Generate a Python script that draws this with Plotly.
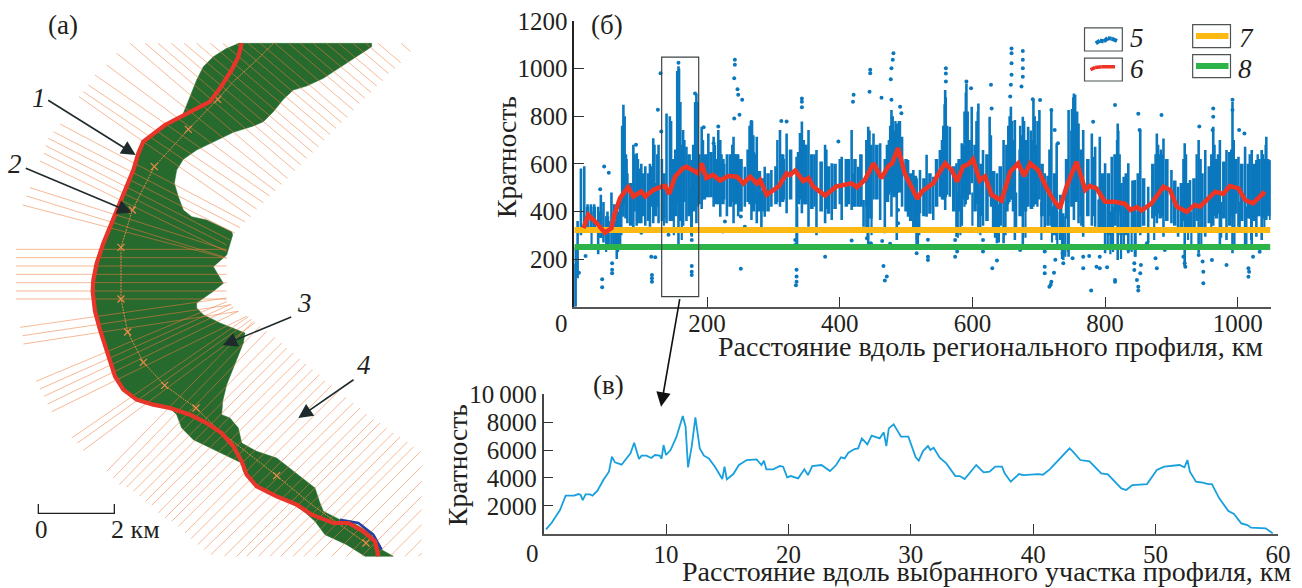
import plotly.graph_objects as go

W, H = 1302, 588
SERIF = "Liberation Serif"
INK = "#231f20"

# ---------- panel (a): map, in map units (2 km = 228 units) ----------
river_x = [715,1115,1115,1040,970,920,880,850,820,790,760,700,640,590,550,530,523,535,550,575,620,695,698,680,640,670,640,
           590,590,610,660,735,730,700,680,668,665,690,715,725,770,830,880,945,958,970,1020,1060,1110,1145,1180,1095,1040,975,945,
           900,870,800,760,730,725,640,580,545,530,510,450,400,365,345,325,300,285,278,280,290,310,345,400,415,430,495,545,550,570,590,610,640,680]
river_y = [130,130,140,190,235,258,270,298,335,365,378,397,425,450,478,510,550,590,630,650,660,695,705,765,800,850,874,
           909,924,944,969,999,1029,1104,1154,1204,1244,1254,1284,1329,1354,1374,1414,1464,1504,1534,1559,1569,1599,1649,1669,1669,1634,1604,1564,
           1524,1509,1479,1454,1414,1389,1349,1319,1284,1244,1224,1209,1192,1164,1124,1069,989,934,874,860,800,730,640,510,460,425,375,350,340,290,240,200,170,145]
bank_x = [725,715,695,660,630,545,495,430,415,400,345,310,290,280,278,285,300,325,345,370,410,460,510,570,620,665,700,725,740,770,830,890,935,1000,1045,1090,1125,1135]
bank_y = [130,170,210,265,305,350,375,425,460,510,640,730,790,840,874,934,989,1069,1129,1169,1199,1214,1224,1244,1269,1299,1339,1384,1424,1459,1489,1514,1544,1569,1569,1594,1624,1669]
blue_bank_x = [1020,1075,1120,1145]
blue_bank_y = [1559,1569,1604,1649]
centre_x = [820,770,700,653,565,463,397,363,363,383,430,494,588,660,830,935,1098]
centre_y = [130,180,245,298,388,500,630,742,897,996,1087,1156,1224,1294,1427,1514,1629]
station_x = [653,565,463,397,363,363,383,430,494,588,830,1098]
station_y = [298,388,500,630,742,897,996,1087,1156,1224,1427,1629]
section_x0 = [1203,1134,1097,1059,1016,979,940,901,866,825,781,745,708,669,631,590,553,514,474,436,390,350,320,285,265,250,237,180,160,
              145,137,132,120,90,80,68,48,48,48,48,48,48,48,60,68,70,108,120,132,143,155,215,232,250,
              320,340,358,380,400,418,437,455,475,495,515,535,555,573,593,612,633,673,710,740,775,810,842,879,912,947,995,1040,1085,1125,1170,1215,1255]
section_y0 = [130,130,130,130,130,130,130,130,130,130,130,130,130,130,130,130,130,130,130,130,130,160,195,225,255,275,290,372,395,
              415,437,460,483,563,588,615,748,773,798,823,848,873,897,982,1007,1032,1144,1167,1189,1212,1235,1314,1329,1351,
              1414,1434,1454,1461,1474,1489,1504,1516,1539,1554,1564,1579,1599,1616,1634,1649,1664,1669,1669,1669,1669,1669,1669,1669,1669,1669,1669,1669,1669,1669,1669,1669,1669]
section_x1 = [1232,1202,1185,1165,1148,1130,1113,1095,1078,1060,1042,1025,1008,990,972,955,938,920,902,885,862,845,826,809,790,770,752,735,720,
              705,690,680,680,680,670,680,680,680,680,680,680,680,680,680,695,715,680,690,700,715,740,745,755,765,
              760,780,800,825,845,860,880,900,918,938,958,975,995,1015,1038,1060,1080,1100,1120,1140,1160,1180,1200,1222,1240,1262,1265,1265,1265,1265,1265,1265,1265]
section_y1 = [155,188,205,220,242,258,277,295,310,330,352,368,385,403,420,440,457,475,494,512,535,553,572,588,608,627,650,665,683,
              700,720,735,755,750,770,775,748,773,798,823,848,873,897,894,914,934,905,914,922,934,949,950,958,968,
              964,979,994,1012,1029,1044,1059,1076,1092,1109,1124,1142,1156,1174,1192,1209,1224,1242,1259,1269,1284,1299,1311,1326,1341,1354,1399,1444,1489,1529,1574,1619,1659]
scale_km_x = [115,115,343,343]
scale_km_y = [1512,1540,1540,1512]

# ---------- panel (б): regional profile ----------
spike_x = [0,2,5,10,15,20,25,30,36,40,44,50,56,60,64,69,74,80,89,94,101,107,114,119,127,132,139,144,157,164,169,177,184,192,202,210,217,220,230,240,247,252,
           257,267,275,282,287,297,310,320,335,343,353,365,378,388,403,418,428,436,443,451,461,468,478,486,494,503,511,516,
           521,531,541,551,559,566,576,584,591,599,609,616,626,637,647,658,664,676,684,692,701,709,719,727,737,745,753,760,767,780,
           785,792,800,810,819,828,835,845,853,865,878,888,900,910,920,928,941,951,963,973,983,992,1001,1011,1021,1028,1036,1043,1049]
spike_lo = [0,0,120,300,320,310,310,320,220,290,270,250,260,270,200,260,378,350,310,340,350,340,336,350,350,360,350,360,240,340,360,294,350,410,460,420,430,378,380,350,380,400,
            420,364,350,322,378,420,420,392,252,392,336,300,350,364,364,406,420,336,252,450,364,308,378,280,420,378,322,252,
            392,378,364,462,406,462,294,340,448,518,308,340,462,266,266,450,280,252,420,420,450,322,340,280,196,210,364,350,294,340,
            336,310,224,238,196,238,224,210,300,266,350,294,350,294,168,320,224,294,340,238,280,224,336,252,252,294,280,364,364]
spike_hi = [180,250,360,580,590,430,430,430,420,470,440,400,480,430,430,440,848,560,680,645,600,590,600,708,680,620,812,800,1010,742,672,616,896,756,728,714,742,700,640,714,640,620,
            588,784,714,490,588,574,742,728,630,778,742,658,680,602,630,742,588,448,756,728,686,620,826,770,714,616,574,540,
            574,638,546,658,910,756,602,686,938,840,854,658,798,560,700,840,784,798,756,868,826,560,826,686,392,826,896,770,742,728,
            672,714,602,630,770,546,602,532,742,504,728,707,574,504,686,532,700,658,756,700,658,860,630,672,658,616,658,714,616]
core_x = [20,30,40,50,60,70,78,85,97,104,112,122,135,148,153,160,173,180,188,196,206,214,224,235,244,250,262,270,279,285,292,304,314,326,338,348,358,372,383,393,410,423,432,447,456,472,482,490,500,507,514,
          527,536,546,555,572,580,588,595,604,613,622,632,642,652,662,672,680,689,696,705,714,724,733,742,750,756,764,774,783,
          796,805,815,824,832,842,850,858,872,883,893,905,915,924,934,946,957,968,979,988,997,1006,1016,1025,1032,1040,1047]
core_lo = [320,310,290,260,260,300,370,340,350,380,360,380,370,360,380,360,380,400,430,450,460,430,430,420,430,400,440,400,400,400,400,430,440,450,430,430,410,400,390,410,420,420,420,370,450,440,460,480,400,360,320,
           380,390,420,450,400,400,450,470,400,380,360,320,340,400,400,380,400,410,430,380,340,300,280,370,420,440,380,380,380,
           330,300,340,300,300,330,320,340,370,370,360,340,330,320,320,330,350,370,370,340,390,360,370,360,380,370,380]
core_hi = [420,420,400,380,360,440,620,520,580,560,560,520,560,620,660,680,640,680,640,640,650,620,620,640,640,620,660,650,570,540,560,590,640,660,650,680,640,610,590,600,620,620,640,680,680,680,740,780,620,560,550,
           540,560,620,700,590,620,680,700,680,600,640,570,590,680,700,660,700,700,680,600,550,560,470,620,740,760,660,620,630,
           560,560,640,520,560,530,560,540,600,640,620,530,520,520,540,560,590,620,610,650,620,600,600,600,620,620,610]
ridge_x = [72,76,78,91,96,116,121,125,146,155,158,160,166,179,182,186,194,200,212,222,226,238,242,
           264,266,268,270,272,306,312,316,340,346,350,362,380,400,414,420,440,445,474,476,480,484,488,
           556,558,560,562,588,590,593,606,608,628,654,656,660,672,674,678,688,694,698,716,750,752,755,758,
           818,820,822,876,880,884,886,918,922,938,944,960,965,970,990,994,1018,1030,1038,1042,1046]
ridge_lo = [420,430,420,400,420,420,430,420,420,440,420,430,440,420,410,420,450,460,460,450,450,440,430,
            430,430,420,420,430,440,440,450,450,430,430,420,410,430,430,420,420,410,470,480,470,470,480,
            450,460,460,470,420,430,450,430,440,420,430,440,450,420,420,430,420,430,420,380,440,450,460,450,
            400,380,400,380,390,390,380,360,360,360,370,370,380,390,380,370,370,380,380,400,390]
ridge_hi = [760,800,640,640,620,590,680,640,780,990,1000,860,700,640,860,860,700,640,680,640,600,680,640,
            760,780,780,720,640,700,640,620,730,700,680,640,660,620,620,560,700,740,700,760,800,780,740,
            760,850,880,760,820,900,820,780,820,720,760,800,780,760,720,780,740,800,780,660,830,880,890,820,
            700,740,640,640,680,660,640,620,640,640,620,640,680,640,660,700,640,640,640,680,620]
trough_x = [26,48,52,62,66,135,150,162,176,336,440,442,448,516,518,520,578,582,600,612,634,640,650,666,680,704,720,728,735,740,744,764,790,804,808,812,824,840,846,874,925,930,945,960,975,995,1003,1013,1020,1040]
trough_lo = [240,230,250,260,230,340,300,280,300,255,320,280,300,280,260,300,290,300,340,300,290,270,300,320,290,280,270,250,200,210,230,340,310,240,220,230,200,230,210,280,280,240,260,320,290,260,310,260,280,330]
trough_hi = [400,380,360,350,400,460,470,470,500,420,450,440,450,460,450,450,480,470,480,500,450,430,440,480,460,440,420,400,380,380,380,460,450,420,400,420,380,400,400,440,420,400,420,440,440,420,440,420,430,450]
stray_x = [45,52,39,42,42,57,57,57,17,7,116,122,117,117,117,130,126,131,177,177,177,182,157,251,242,242,241,246,247,253,249,241,217,195,210,142,101,93,177,215,224,242,227,251,257,
           343,343,343,335,335,335,334,378,312,320,418,398,421,420,446,446,445,463,478,477,480,478,481,491,493,466,471,468,516,488,488,333,333,441,447,464,476,
           560,560,560,591,598,628,659,659,659,659,676,676,676,676,674,658,657,691,702,629,719,724,729,782,533,533,533,574,574,577,574,616,616,637,630,672,709,709,723,718,719,716,779,725,737,751,767,767,776,787,709,642,736,
           815,815,815,850,885,963,963,992,992,1002,1010,792,792,803,850,850,844,844,848,853,854,876,878,920,921,948,948,947,961,983,1016,1016,1023,1033,941,918,1017,910,962,942,822,835,863,890,852]
stray_y = [589,563,493,115,82,183,155,140,213,143,210,208,133,120,105,981,827,736,171,147,133,896,1025,159,1037,1016,960,913,890,869,806,791,757,754,687,302,311,680,280,325,316,323,358,379,336,
           875,861,838,155,127,105,90,210,780,778,278,694,890,861,995,981,903,878,869,955,1037,1002,1065,840,813,171,127,110,225,350,406,280,259,288,267,276,264,
           1002,980,946,946,918,932,1085,1065,1023,974,1074,1037,1002,966,925,932,883,871,868,833,826,742,686,777,281,210,196,280,252,232,210,280,232,194,162,238,168,141,143,92,105,84,68,197,182,203,210,162,213,168,232,252,224,
           847,112,105,810,805,833,798,869,826,742,728,210,161,166,84,68,182,154,112,140,175,203,161,182,168,98,147,190,196,175,161,126,210,231,217,210,147,252,742,757,252,238,266,238,742]
mean_x = [14,21,34,46,56,61,69,81,89,101,107,119,129,137,143,152,164,169,187,192,199,209,220,232,245,255,265,275,280,290,300,308,320,325,333,345,353,360,378,395,418,426,438,451,463,473,479,488,498,508,517,
          524,531,541,551,559,569,577,586,594,601,611,619,629,644,657,669,678,687,699,712,722,732,742,757,770,777,787,
          800,815,830,838,848,855,870,888,898,908,923,935,943,966,978,988,1001,1011,1023,1038,1041]
mean_y = [330,386,350,311,330,392,456,502,463,484,463,490,502,507,474,547,582,588,560,602,540,553,530,549,546,518,546,518,532,470,490,505,560,553,572,528,540,505,467,505,518,502,533,602,540,589,602,666,560,498,453,
          484,498,519,568,602,574,525,589,598,619,530,547,470,446,567,602,549,602,574,498,449,414,505,609,490,507,497,
          441,441,432,406,418,404,434,504,490,420,399,427,420,483,474,507,497,448,434,476,469]
level_x = [0,1049]
level_7 = [322,322]
level_8 = [251,251]
frame_x = [131.7,187.5]
frame_y = [42,1048]
xticks_b = [200,400,600,800,1000]
yticks_b = [200,400,600,800,1000,1200]

# ---------- panel (в): selected section ----------
section_km = [0.2,0.66,1.34,1.8,2.5,2.84,3.03,3.2,3.43,3.8,4,4.4,4.88,5.34,5.58,5.83,6.37,7.1,7.4,7.79,8,8.4,8.8,9.1,9.5,9.64,9.8,10,10.37,10.86,11.37,11.6,11.8,12.1,12.4,12.76,13.1,13.5,14,14.6,14.78,14.97,15.5,15.96,16.6,17.4,17.8,18,18.2,18.76,19.3,19.57,19.9,20.2,20.8,21.3,21.6,21.95,22.7,23.4,23.9,24.3,24.6,24.9,25.4,25.7,26,26.45,26.8,
              27.46,27.79,28,28.2,28.6,29.2,29.8,30.4,30.65,31,31.4,31.6,31.87,32.36,32.9,33.64,34,34.4,35.35,35.95,36.44,36.9,37.45,37.67,38.16,38.84,39.2,40.4,40.8,41.35,42.16,42.97,43.25,43.85,44.6,45.56,46.1,47.2,47.6,48.1,49.3,50.1,50.7,51.1,51.95,52.36,52.6,52.8,53.3,53.85,54.3,54.6,55.2,55.95,56.4,57,57.5,57.8,59,59.57]
section_val = [310,788,1696,2724,2724,2843,2772,2413,2819,2819,2724,3082,3847,4444,5520,5114,4947,5759,6524,5353,5592,5592,5424,5640,5592,5377,6356,5640,5998,6954,8436,7671,4755,6237,8340,6117,5592,5400,4803,3919,4803,3895,4277,4923,5281,5329,4923,5233,4612,4612,4851,4803,4038,4134,3967,4612,4206,4851,4923,4492,4923,5472,5400,5807,6070,6117,6834,6404,7026,
               6834,7265,6285,7551,7838,6954,6954,5472,5233,5926,6285,5998,6165,5448,5042,4134,4134,3919,4923,4397,4444,4803,4803,4325,3727,4277,4206,4277,4229,4612,5400,6117,5878,5281,5185,4325,4253,3249,3130,3489,3560,4564,4803,4851,4923,4755,5281,4444,3727,3656,3560,3560,2532,1624,1409,740,620,429,381,20]
xticks_c = [10,20,30,40,50,60]
yticks_c = [2000,4000,6000,8000,10000]
yticklabels_c = ["2000","4000","6000","8000","10\u2009000"]

# legend samples, in the units of panel (б)
legend_labels = ["5","6","7","8"]
key5_x, key5_y = [786,792,798,804,810,818], [1106,1118,1114,1128,1126,1116]
key6_x, key6_y = [778,785,795,815], [995,1005,1008,1008]
key7_x, key7_y = [937,986], [1137,1137]
key8_x, key8_y = [937,986], [1011,1011]
legend_boxes = [(769,1074,826,1171),(769,948,826,1044),(932,1088,989,1185),(932,962,989,1059)]

def px_x(v): return v / W
def px_y(v): return 1 - v / H

def broken(xs0, ys0, xs1, ys1):
    X, Y = [], []
    for a, b, c, d in zip(xs0, ys0, xs1, ys1):
        X += [a, c, None]; Y += [b, d, None]
    return X, Y

fig = go.Figure()
BLUE = "#0b78be"
ORANGE = "rgba(238,125,60,0.6)"

def line(x, y, color, width, ax="", dash=None, mode="lines", **kw):
    fig.add_trace(go.Scatter(x=x, y=y, mode=mode, line=dict(color=color, width=width, dash=dash),
                             xaxis="x"+ax, yaxis="y"+ax, hoverinfo="skip", showlegend=False, **kw))

# map
fig.add_trace(go.Scatter(x=river_x, y=river_y, mode="lines", fill="toself", fillcolor="#276a2d",
                         line=dict(color="#276a2d", width=0.5), hoverinfo="skip", showlegend=False))
hx, hy = broken(section_x0, section_y0, section_x1, section_y1)
line(hx, hy, ORANGE, 0.9)
line(centre_x, centre_y, "#e08a45", 1, dash="2px,1px")
fig.add_trace(go.Scatter(x=station_x, y=station_y, mode="markers",
                         marker=dict(symbol="x-thin", size=7, line=dict(color="#ee8a4a", width=1.2)),
                         hoverinfo="skip", showlegend=False))
line(blue_bank_x, blue_bank_y, "#27409b", 2.5)
line(bank_x, bank_y, "#e8352a", 4.2)
line(scale_km_x, scale_km_y, "#231f20", 1.3)

# regional profile
for xs, los, his, wd in [(spike_x, spike_lo, spike_hi, 2.6), (core_x, core_lo, core_hi, 3.6),
                         (ridge_x, ridge_lo, ridge_hi, 2.4), (trough_x, trough_lo, trough_hi, 2.2)]:
    sx, sy = broken(xs, los, xs, his)
    line(sx, sy, BLUE, wd, "2")
fig.add_trace(go.Scatter(x=stray_x, y=stray_y, mode="markers", xaxis="x2", yaxis="y2",
                         marker=dict(color=BLUE, size=4), hoverinfo="skip", showlegend=False))
line(level_x, level_7, "#fdb913", 6, "2")
line(level_x, level_8, "#2cb34a", 6, "2")
line(mean_x, mean_y, "#ee3524", 4.6, "2")

# keys
for x0, y0, x1, y1 in legend_boxes:
    fig.add_shape(type="rect", xref="x2", yref="y2", x0=x0, y0=y0, x1=x1, y1=y1,
                  line=dict(color="#4d5355", width=1.2), fillcolor="white", layer="above")
keys = [(key5_x, key5_y, BLUE, 4), (key6_x, key6_y, "#ee3524", 3.5), (key7_x, key7_y, "#fdb913", 6), (key8_x, key8_y, "#2cb34a", 6)]
for kx, ky, col, wd in keys:
    for a, b, c, d in zip(kx[:-1], ky[:-1], kx[1:], ky[1:]):
        fig.add_shape(type="line", xref="x2", yref="y2", x0=a, y0=b, x1=c, y1=d,
                      line=dict(color=col, width=wd), layer="above")
fig.add_shape(type="rect", xref="x2", yref="y2", x0=frame_x[0], x1=frame_x[1], y0=frame_y[0], y1=frame_y[1],
              line=dict(color="#3d4345", width=1.2), layer="above")

# selected section
line(section_km, section_val, "#189fdd", 1.8, "3")

def text(t, x, y, size=22, italic=False, angle=0):
    fig.add_annotation(text=f"<i>{t}</i>" if italic else t, xref="paper", yref="paper",
                       x=px_x(x), y=px_y(y), showarrow=False, textangle=angle,
                       xanchor="center", yanchor="middle",
                       font=dict(family=SERIF, size=size, color=INK))

def arrow(tail, head, color="#1f2a2c"):
    fig.add_annotation(text="", xref="paper", yref="paper", x=px_x(head[0]), y=px_y(head[1]),
                       axref="pixel", ayref="pixel", ax=tail[0]-head[0], ay=tail[1]-head[1],
                       showarrow=True, arrowhead=2, arrowsize=1.8, arrowwidth=1.6, arrowcolor=color)

text("(а)", 63, 25, 27)
text("(б)", 607, 25, 27)
text("(в)", 608, 385, 27)
text("1", 39, 98, 27, True); text("2", 15, 164, 27, True); text("3", 304, 303, 27, True); text("4", 364, 365, 27, True)
text("0", 41, 529, 25); text("2 км", 135, 529, 26)
text("0", 561, 323, 25); text("0", 532, 553, 25)
text("Кратность", 506, 157, 27.6, angle=-90)
text("Кратность", 457, 465, 27.6, angle=-90)
text("Расстояние вдоль регионального профиля, км", 990, 346, 28)
text("Расстояние вдоль выбранного участка профиля, км", 986, 571, 28)
for lab, lx, ly in zip(legend_labels, [1137,1137,1246,1245], [38,69,38,69]):
    text(lab, lx, ly, 27, True)
arrow((46.7,99.3), (135.7,155)); arrow((24.3,167.7), (131.7,212.7))
arrow((292.7,316.3), (222.7,345.3)); arrow((355,378.7), (298.3,418))
arrow((680,297.7), (661,406.7), "#111111")

tick_font = dict(family=SERIF, size=25, color=INK)
axis_common = dict(showgrid=False, zeroline=False, showline=True, ticks="inside", ticklen=10, tickwidth=1.2,
                   tickcolor="#333333", tickfont=tick_font)
fig.update_layout(
    width=W, height=H, margin=dict(l=0, r=0, t=0, b=0, autoexpand=False), paper_bgcolor="white", plot_bgcolor="rgba(0,0,0,0)",
    showlegend=False,
    xaxis=dict(domain=[0, 440/W], range=[0, 1320], visible=False),
    yaxis=dict(domain=[0, 1], range=[1764, 0], visible=False),
    xaxis2=dict(domain=[574.3/W, 1270.7/W], range=[0, 1049.6], anchor="y2", tickvals=xticks_b, linecolor="#555555", linewidth=1.6, ticklabelstandoff=-7, **axis_common),
    yaxis2=dict(domain=[1-306.7/H, 1-21/H], range=[0, 1200], anchor="x2", tickvals=yticks_b, linecolor="#222222", linewidth=1.6, **axis_common),
    xaxis3=dict(domain=[543.6/W, 1278/W], range=[0, 60], anchor="y3", tickvals=xticks_c, linecolor="#555555", linewidth=1.6, ticklabelstandoff=-3, **axis_common),
    yaxis3=dict(domain=[1-533.7/H, 1-394.2/H], range=[0, 10000], anchor="x3", tickvals=yticks_c, ticktext=yticklabels_c, linecolor="#444444", linewidth=1.6, **axis_common),
)
fig.write_html("out.html", config={"displayModeBar": False}, post_script="document.body.style.margin='0';")
